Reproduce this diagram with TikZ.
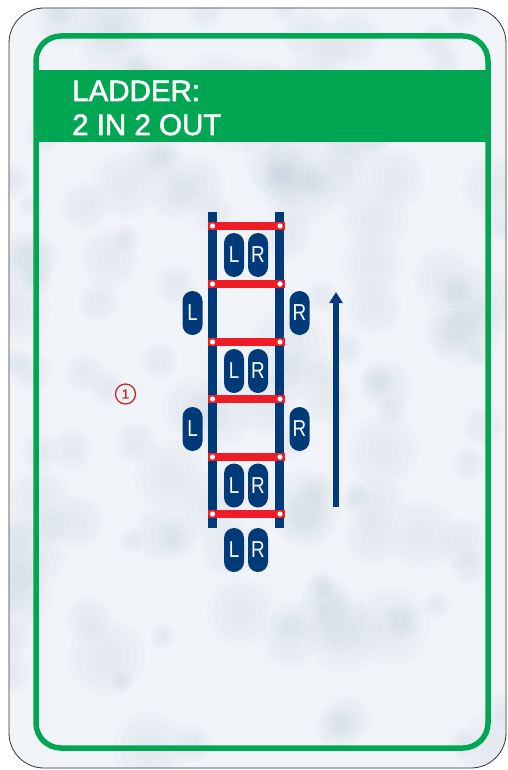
\documentclass[tikz,border=0pt]{standalone}
\usepackage{fontspec}
\usepackage{graphicx}
\setmainfont{Liberation Sans}
\newfontfamily\titlefont[FakeBold=2]{Liberation Sans}
\usetikzlibrary{arrows.meta}
\definecolor{navy}{HTML}{003A78}
\definecolor{rungred}{HTML}{EE1C25}
\definecolor{cardgreen}{HTML}{00A651}
\definecolor{snow}{HTML}{F0F4F8}
\definecolor{frost}{HTML}{A4B6CE}
\definecolor{markred}{HTML}{C8262B}
\newcommand\footlet[1]{\scalebox{0.82}[1]{#1}}
\tikzset{
  foot/.style={fill=navy, rounded corners=10pt, minimum width=20pt, minimum height=44pt,
    inner sep=0pt, text=white, font=\fontsize{23}{23}\selectfont},
  rail/.style={fill=navy},
  rung/.style={fill=rungred},
  rivet/.style={fill=white},
  title/.style={anchor=base west, text=white, inner sep=0pt, font=\titlefont\fontsize{29.5}{29.5}\selectfont},
  marker/.style={draw=markred, circle, line width=1.3pt, minimum size=20pt, inner sep=0pt,
    text=markred, font=\titlefont\fontsize{13}{13}\selectfont},
  dirarrow/.style={navy, line width=6pt, -{Triangle[length=11pt,width=13pt]}},
  haze/.style={fill=frost, opacity=0.035}
}
\begin{document}
\begin{tikzpicture}[x=1pt,y=-1pt]
\useasboundingbox (0,0) rectangle (507,770);
\fill[white] (0,0) rectangle (507,770);
% card
\fill[snow, rounded corners=35pt] (9,8) rectangle (506,768);
\begin{scope}
  \clip[rounded corners=35pt] (9,8) rectangle (506,768);
  \pgfmathsetseed{11}
  \foreach \i in {1,...,130}{
    \pgfmathsetmacro\xx{9+497*rnd}
    \pgfmathsetmacro\yy{8+760*rnd}
    \pgfmathsetmacro\rr{12+28*rnd}
    \foreach \f in {1,0.8,0.6,0.4}{
      \fill[haze] (\xx,\yy) circle ({\rr*\f*1pt});
    }
  }
\end{scope}
\draw[black!80, line width=0.8pt, rounded corners=35pt] (9,8) rectangle (506,768);
% green frame and header
\fill[cardgreen] (36,70) rectangle (488,142);
\draw[cardgreen, line width=5.5pt, rounded corners=25pt] (36,36) rectangle (488,748);
\node[title] (t1) at (72,101) {LADDER:};
\node[title] (t2) at (72,135) {2 IN 2 OUT};
% ladder
\fill[rail] (208,212) rectangle (217,528);
\fill[rail] (275,212) rectangle (284,528);
\foreach \y in {226,284,342,399,457,514}{
  \fill[rung] (208,\y-4) rectangle (285,\y+4);
  \fill[rivet] (212.5,\y) circle (2.6pt);
  \fill[rivet] (280,\y) circle (2.6pt);
}
% footprints
\node[foot] (l1) at (234,255) {\footlet{L}};
\node[foot] (r1) at (258,255) {\footlet{R}};
\node[foot] (l2) at (192.5,313) {\footlet{L}};
\node[foot] (r2) at (299.5,313) {\footlet{R}};
\node[foot] (l3) at (234,371) {\footlet{L}};
\node[foot] (r3) at (258,371) {\footlet{R}};
\node[foot] (l4) at (192.5,429) {\footlet{L}};
\node[foot] (r4) at (299.5,429) {\footlet{R}};
\node[foot] (l5) at (234,485.5) {\footlet{L}};
\node[foot] (r5) at (258,485.5) {\footlet{R}};
\node[foot] (l6) at (234,550) {\footlet{L}};
\node[foot] (r6) at (258,550) {\footlet{R}};
% direction arrow
\coordinate (a0) at (336,507);
\coordinate (a1) at (336,292);
\draw[dirarrow] (a0) -- (a1);
% marker
\node[marker] (m1) at (125.5,394) {1};
\end{tikzpicture}
\end{document}
